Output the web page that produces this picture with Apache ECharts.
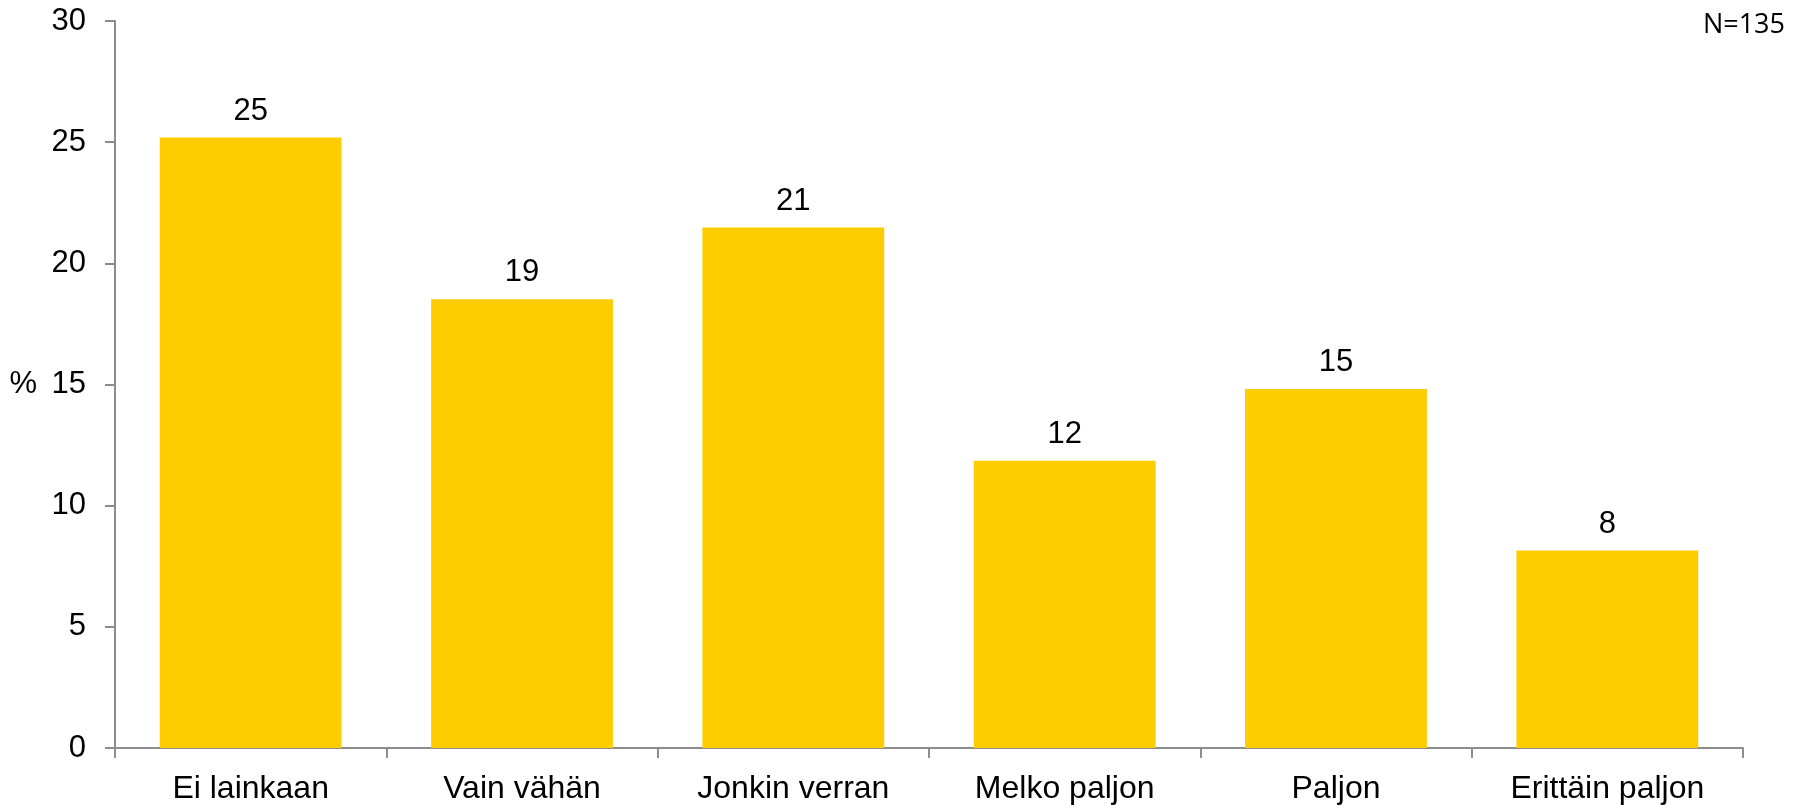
<!DOCTYPE html>
<html>
<head>
<meta charset="utf-8">
<script src="https://cdn.jsdelivr.net/npm/echarts@6/dist/echarts.min.js"></script>
<style>
  html, body { margin: 0; padding: 0; background: #fff; }
  #chart { width: 1804px; height: 805px; }
</style>
</head>
<body>
<div id="chart"></div>
<script>
// vastaukset, N=135 (osuudet %)
const categories = ['Ei lainkaan', 'Vain vähän', 'Jonkin verran', 'Melko paljon', 'Paljon', 'Erittäin paljon']
const percents = [25.19, 18.52, 21.48, 11.85, 14.81, 8.15]
const yTicks = { min: 0, max: 30, interval: 5 }
const nText = 'N=135'

const axisGray = '#8c8c8c'
const font = '"Liberation Sans", Arial, sans-serif'

const chart = echarts.init(document.getElementById('chart'))

chart.setOption({
  animation: false,
  grid: {
    left: 115,
    right: 61,
    top: 21,
    bottom: 55,
    containLabel: false
  },
  xAxis: {
    type: 'category',
    data: categories,
    axisLine: { lineStyle: { color: axisGray, width: 2 } },
    axisTick: { show: true, length: 10, lineStyle: { color: axisGray, width: 2 } },
    axisLabel: { color: '#000', fontFamily: font, fontSize: 32, margin: 25 }
  },
  yAxis: {
    type: 'value',
    min: yTicks.min,
    max: yTicks.max,
    interval: yTicks.interval,
    name: '%',
    nameLocation: 'middle',
    nameRotate: 0,
    nameGap: 78,
    nameTextStyle: { color: '#000', fontFamily: font, fontSize: 31, align: 'right', verticalAlign: 'middle' },
    splitLine: { show: false },
    axisLine: { show: true, lineStyle: { color: axisGray, width: 2 } },
    axisTick: { show: true, length: 10, lineStyle: { color: axisGray, width: 2 } },
    axisLabel: { color: '#000', fontFamily: font, fontSize: 31, margin: 29 }
  },
  series: [
    {
      type: 'bar',
      data: percents,
      barCategoryGap: '33%',
      itemStyle: { color: '#FFCC00' },
      label: {
        show: true,
        position: 'top',
        distance: 11,
        color: '#000',
        fontFamily: font,
        fontSize: 31,
        formatter: p => Math.round(p.value)
      }
    }
  ],
  graphic: [
    {
      type: 'text',
      right: 19,
      top: 12,
      style: {
        text: nText,
        fill: '#000',
        font: '27px "Open Sans", "Noto Sans", sans-serif'
      }
    }
  ]
})
</script>
</body>
</html>
